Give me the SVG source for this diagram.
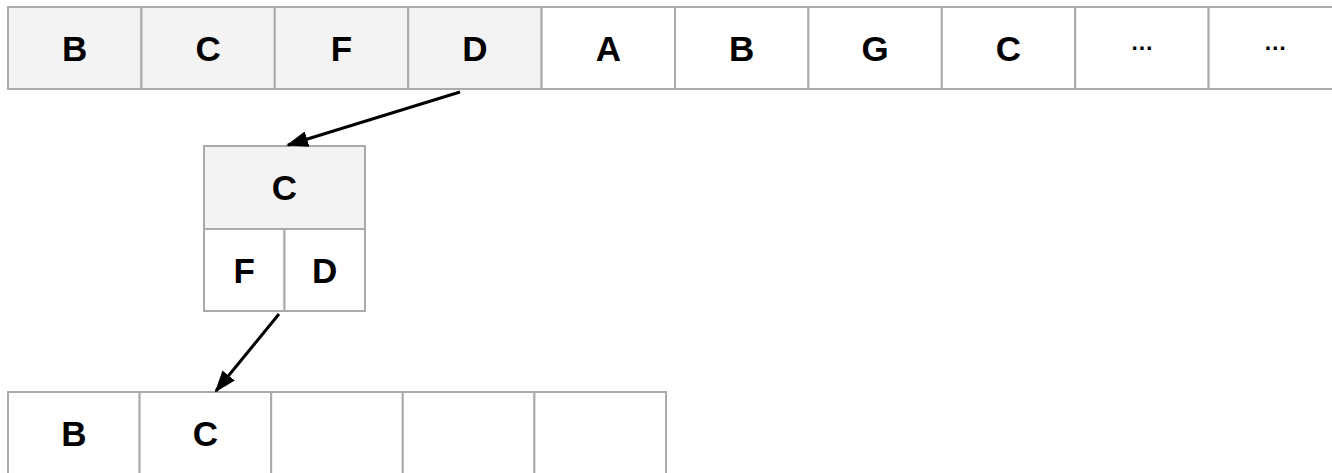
<svg xmlns="http://www.w3.org/2000/svg" width="1332" height="473" viewBox="0 0 1332 473">
<style>
.c{stroke:#aaaaaa;stroke-width:2;fill:#ffffff}
.g{fill:#f3f3f3}
.t{font-family:"Liberation Sans",Arial,sans-serif;font-weight:bold;font-size:35px;text-anchor:middle;fill:#000}
.e{font-size:23px}
.a{stroke:#000;stroke-width:3;fill:none;marker-end:url(#ah)}
</style>
<defs>
<marker id="ah" markerWidth="22" markerHeight="16" refX="20" refY="8" orient="auto" markerUnits="userSpaceOnUse" viewBox="0 0 22 16">
<path d="M0,0 L22,8 L0,16 z" fill="#000"/>
</marker>
</defs>
<g id="top-row">
<g id="t1"><rect class="c g" x="8" y="7" width="133.4" height="82"/><text class="t" x="74.7" y="61">B</text></g>
<g id="t2"><rect class="c g" x="141.4" y="7" width="133.4" height="82"/><text class="t" x="208.1" y="61">C</text></g>
<g id="t3"><rect class="c g" x="274.8" y="7" width="133.4" height="82"/><text class="t" x="341.5" y="61">F</text></g>
<g id="t4"><rect class="c g" x="408.2" y="7" width="133.4" height="82"/><text class="t" x="474.9" y="61">D</text></g>
<g id="t5"><rect class="c" x="541.6" y="7" width="133.4" height="82"/><text class="t" x="608.3" y="61">A</text></g>
<g id="t6"><rect class="c" x="675" y="7" width="133.4" height="82"/><text class="t" x="741.7" y="61">B</text></g>
<g id="t7"><rect class="c" x="808.4" y="7" width="133.4" height="82"/><text class="t" x="875.1" y="61">G</text></g>
<g id="t8"><rect class="c" x="941.8" y="7" width="133.4" height="82"/><text class="t" x="1008.5" y="61">C</text></g>
<g id="t9"><rect class="c" x="1075.2" y="7" width="133.4" height="82"/><text class="t e" x="1141.9" y="50">…</text></g>
<g id="t10"><rect class="c" x="1208.6" y="7" width="133.4" height="82"/><text class="t e" x="1275.3" y="50">…</text></g>
</g>
<g id="mid-node">
<rect class="c g" x="204" y="146" width="161" height="83"/><text class="t" x="284.5" y="200">C</text>
<rect class="c" x="204" y="229" width="80.5" height="82"/><text class="t" x="244.2" y="283">F</text>
<rect class="c" x="284.5" y="229" width="80.5" height="82"/><text class="t" x="324.7" y="283">D</text>
</g>
<g id="bottom-row">
<g id="b1"><rect class="c" x="8" y="392" width="131.6" height="100"/><text class="t" x="73.8" y="446">B</text></g>
<g id="b2"><rect class="c" x="139.6" y="392" width="131.6" height="100"/><text class="t" x="205.4" y="446">C</text></g>
<g id="b3"><rect class="c" x="271.2" y="392" width="131.6" height="100"/></g>
<g id="b4"><rect class="c" x="402.8" y="392" width="131.6" height="100"/></g>
<g id="b5"><rect class="c" x="534.4" y="392" width="131.6" height="100"/></g>
</g>
<g id="connectors">
<line class="a" x1="460" y1="92" x2="288" y2="145"/>
<line class="a" x1="279" y1="314" x2="216" y2="391"/>
</g>
</svg>
